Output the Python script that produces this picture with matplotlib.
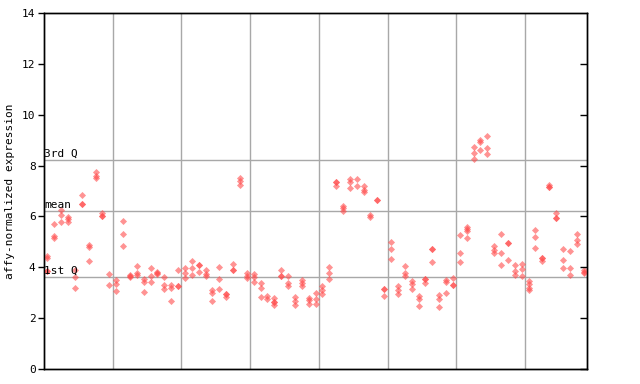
import matplotlib
matplotlib.use('Agg')
import numpy as np
from matplotlib import pyplot as plt
from matplotlib import transforms

# expression values per sample (columns left to right)
values = [
    [4.45, 4.38, 3.87, 3.87],
    [5.70, 5.22, 5.15],
    [6.24, 6.04, 5.80],
    [5.98, 5.90, 5.78],
    [3.90, 3.62, 3.19],
    [6.85, 6.50, 6.50],
    [4.88, 4.80, 4.26],
    [7.75, 7.60, 7.50],
    [6.12, 6.00, 6.00],
    [3.74, 3.30],
    [3.51, 3.34, 3.08],
    [5.83, 5.32, 4.85],
    [3.70, 3.67, 3.60],
    [4.06, 3.78, 3.70],
    [3.54, 3.43, 3.03],
    [3.98, 3.64, 3.43],
    [3.82, 3.78, 3.74],
    [3.62, 3.30, 3.13],
    [3.32, 3.18, 2.68],
    [3.90, 3.26, 3.26],
    [3.97, 3.77, 3.58],
    [4.23, 3.97, 3.71],
    [4.10, 4.10, 3.81],
    [3.90, 3.74, 3.66],
    [3.12, 3.00, 2.68],
    [4.01, 3.54, 3.16],
    [2.96, 2.96, 2.85],
    [4.13, 3.91, 3.91],
    [7.52, 7.40, 7.22],
    [3.77, 3.67, 3.58],
    [3.74, 3.62, 3.42],
    [3.38, 3.18, 2.83],
    [2.86, 2.76],
    [2.80, 2.64, 2.64, 2.53],
    [3.90, 3.64, 3.64],
    [3.64, 3.38, 3.28],
    [2.83, 2.66, 2.53],
    [3.50, 3.40, 3.27],
    [2.80, 2.70, 2.56],
    [2.99, 2.75, 2.56],
    [3.25, 3.10, 2.96],
    [4.01, 3.77, 3.54],
    [7.34, 7.34, 7.20],
    [6.42, 6.33, 6.22],
    [7.47, 7.37, 7.12],
    [7.48, 7.20],
    [7.18, 7.05, 6.96],
    [6.07, 5.97],
    [6.63, 6.63],
    [3.15, 3.15, 2.88],
    [4.99, 4.72, 4.34],
    [3.25, 3.12, 2.96],
    [4.06, 3.77, 3.64],
    [3.47, 3.34, 3.15],
    [2.88, 2.75, 2.49],
    [3.54, 3.54, 3.40],
    [4.70, 4.70, 4.21],
    [2.92, 2.75, 2.44],
    [3.51, 3.41, 2.99],
    [3.59, 3.29, 3.29],
    [5.27, 4.56, 4.21],
    [5.58, 5.49, 5.41, 5.15],
    [8.73, 8.49, 8.26],
    [9.00, 8.94, 8.62],
    [9.17, 8.69, 8.45],
    [4.82, 4.69, 4.56],
    [5.31, 4.56, 4.10],
    [4.94, 4.94, 4.27],
    [4.09, 3.84, 3.71],
    [4.14, 3.93, 3.67],
    [3.46, 3.33, 3.20, 3.09],
    [5.45, 5.19, 4.76],
    [4.36, 4.36, 4.23],
    [7.25, 7.14, 7.14],
    [6.13, 5.94, 5.94],
    [4.73, 4.30, 3.97],
    [4.65, 3.99, 3.70],
    [5.31, 5.06, 4.93],
    [3.90, 3.82, 3.77],
]

group_edges = [10, 20, 30, 40, 50, 60, 70]

q1 = 3.62
mean_val = 6.21
q3 = 8.22

yticks = [0, 2, 4, 6, 8, 10, 12, 14]

RED = "#ff4c4c"
GRID = "#a8a8a8"
MONO = "DejaVu Sans Mono"

fig = plt.figure(figsize=(6.4, 3.84), dpi=100)
ax = fig.add_axes([44 / 640, 15 / 384, 543 / 640, 356 / 384])

xs = []
ys = []
for i, col in enumerate(values):
    for v in col:
        xs += [i + 0.5]
        ys += [v]

for e in group_edges:
    ax.axvline(e, color=GRID, lw=1, zorder=1)

for v in [q1, mean_val, q3]:
    ax.axhline(v, color=GRID, lw=1, zorder=1)

trans = transforms.blended_transform_factory(ax.transAxes, ax.transData)
for v, lab in [(q3, "3rd Q"), (mean_val, "mean"), (q1, "1st Q")]:
    ax.text(0.0, v + 0.05, lab, transform=trans, ha='left', va='bottom',
            fontsize=8, family=MONO, zorder=4)

ax.scatter(xs, ys, marker='D', s=13, color=RED, alpha=0.6, linewidths=0, zorder=3)

ax.set_xlim(0, len(values))
ax.set_ylim(0, 14)
ax.set_xticks([])
ax.set_yticks(yticks)
ax.set_yticklabels([str(t) for t in yticks], family=MONO, fontsize=8)
ax.tick_params(axis='y', direction='out', length=4, width=1, pad=2)

# inward ticks on the right spine
ax2 = ax.twinx()
ax2.set_ylim(0, 14)
ax2.set_yticks(yticks[:-1])
ax2.set_yticklabels([])
ax2.tick_params(axis='y', direction='in', length=5, width=1)

for a in [ax, ax2]:
    for s in a.spines.values():
        s.set_color('black')
        s.set_linewidth(1)

ax.set_ylabel("affy-normalized expression", family=MONO, fontsize=8, labelpad=5)

plt.savefig("out.png", dpi=100)
